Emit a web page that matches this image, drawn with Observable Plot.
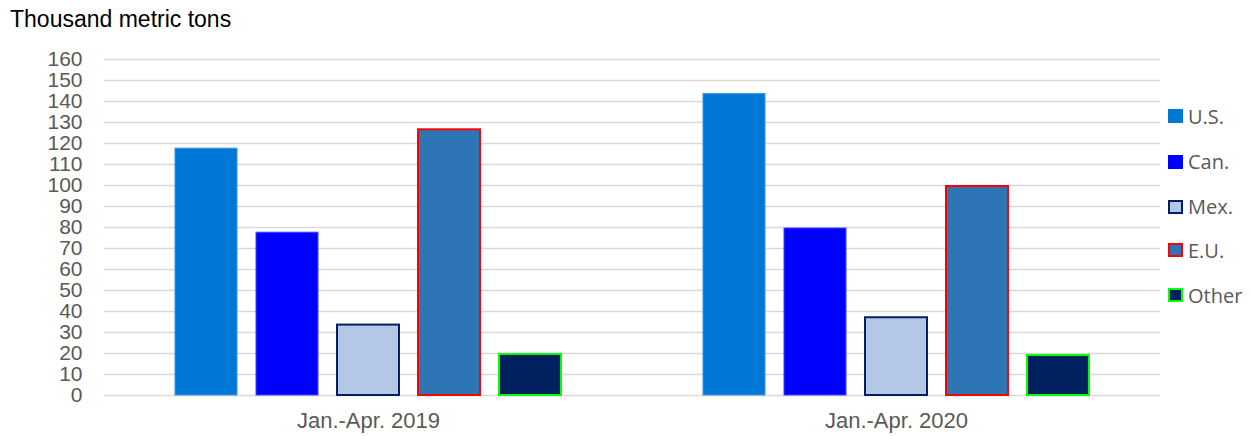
<!DOCTYPE html>
<html>
<head>
<meta charset="utf-8">
<script src="https://cdn.jsdelivr.net/npm/d3@7"></script>
<script src="https://cdn.jsdelivr.net/npm/@observablehq/plot@0.6"></script>
<style>
  html, body { margin: 0; padding: 0; background: #fff; }
  #wrap { position: relative; width: 1250px; height: 436px; overflow: hidden; }
  #title { height: 40px; box-sizing: border-box; padding: 6px 0 0 10px; font-family: "Liberation Sans", Arial, sans-serif; font-size: 23px; color: #000; }
  #legend { position: absolute; left: 1168px; top: 0; font-family: "Open Sans", sans-serif; font-size: 20px; color: #595959; }
  .item { position: absolute; left: 0; display: flex; align-items: center; white-space: nowrap; }
  .sw { width: 15px; height: 14px; box-sizing: border-box; margin-right: 5px; }
</style>
</head>
<body>
<div id="wrap">
  <div id="title">Thousand metric tons</div>
  <div id="chart"></div>
  <div id="legend"></div>
</div>
<script>
const periods = ["Jan.-Apr. 2019", "Jan.-Apr. 2020"];
const origins = ["U.S.", "Can.", "Mex.", "E.U.", "Other"];
const values2019 = [118, 78, 34, 127, 20];
const values2020 = [144, 80, 37.5, 100, 19.5];
const yTicks = [0, 10, 20, 30, 40, 50, 60, 70, 80, 90, 100, 110, 120, 130, 140, 150, 160];
const fills = ["#0078D7", "#0000FF", "#B4C7E7", "#2E75B6", "#002060"];
const strokes = ["#3A93E0", "#4040FF", "#002060", "#FF0000", "#00FF00"];

const rows = [];
origins.forEach((o, i) => rows.push({period: periods[0], origin: o, value: values2019[i]}));
origins.forEach((o, i) => rows.push({period: periods[1], origin: o, value: values2020[i]}));

const chart = Plot.plot({
  width: 1250,
  height: 396,
  marginLeft: 103,
  marginRight: 90,
  marginTop: 19,
  marginBottom: 41,
  style: {fontFamily: "'Liberation Sans', Arial, sans-serif", background: "#fff"},
  fx: {domain: periods, padding: 0, label: null},
  x: {domain: origins, paddingInner: 0.21, paddingOuter: 0.847, axis: null},
  y: {domain: [0, 160], label: null},
  color: {domain: origins, range: fills},
  marks: [
    Plot.ruleY(yTicks, {y: d => d, stroke: "#D9D9D9", strokeWidth: 1.5}),
    Plot.barY(rows, {
      fx: "period", x: "origin", y: "value",
      fill: "origin",
      stroke: d => strokes[origins.indexOf(d.origin)],
      strokeWidth: d => (d.origin === "U.S." || d.origin === "Can.") ? 1 : 2,
      insetTop: 1, insetLeft: 1, insetRight: 1
    }),
    Plot.axisY({ticks: yTicks, tickSize: 0, tickPadding: 22, fontSize: 21, fill: "#595959", label: null}),
    Plot.axisFx({anchor: "bottom", tickSize: 0, tickPadding: 17, fontSize: 22, fill: "#595959", label: null})
  ]
});
document.getElementById("chart").appendChild(chart);

const legendCenters = [116, 161.5, 206.5, 250, 295];
const legend = document.getElementById("legend");
origins.forEach((o, i) => {
  const it = document.createElement("div");
  it.className = "item";
  it.style.top = (legendCenters[i] - 15) + "px";
  it.style.height = "30px";
  const sw = document.createElement("div");
  sw.className = "sw";
  sw.style.background = fills[i];
  if (i >= 2) sw.style.border = "2px solid " + strokes[i];
  const tx = document.createElement("span");
  tx.textContent = o;
  it.appendChild(sw);
  it.appendChild(tx);
  legend.appendChild(it);
});
</script>
</body>
</html>
